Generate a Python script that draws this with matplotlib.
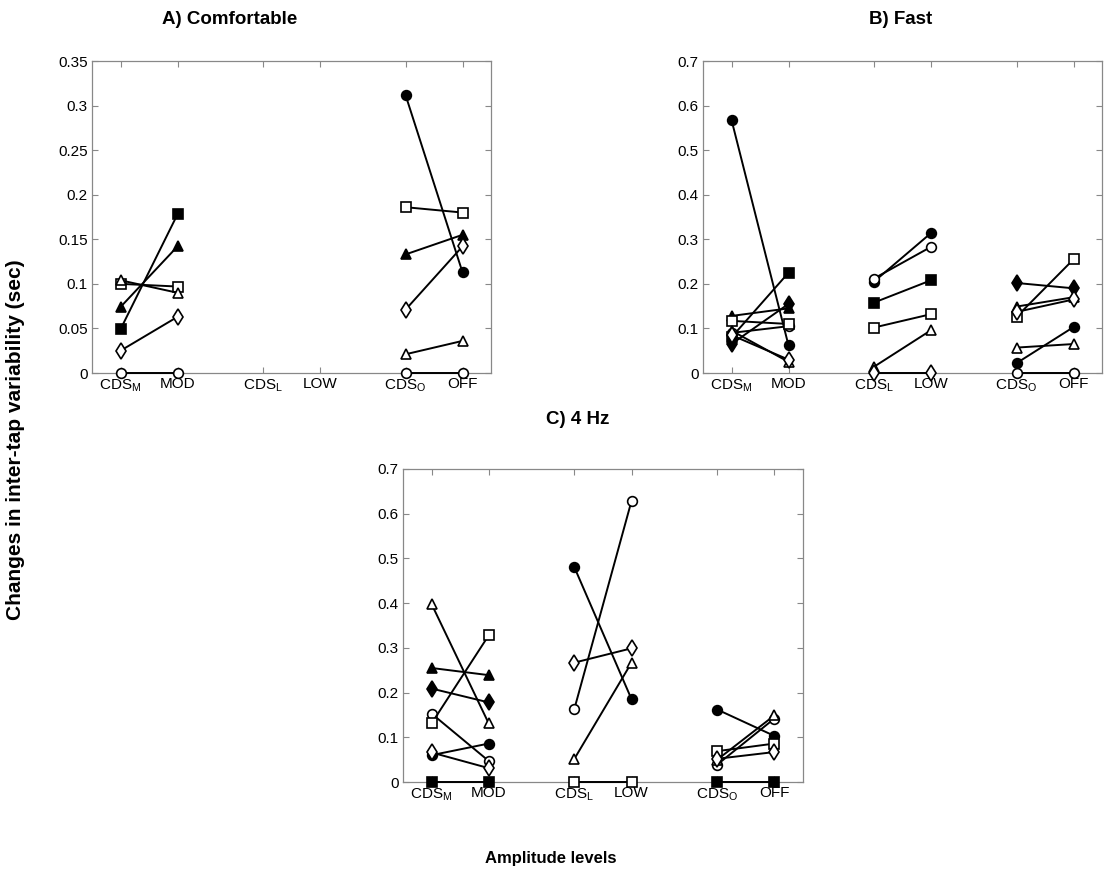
import numpy as np
import matplotlib
matplotlib.use("Agg")
import matplotlib.pyplot as plt

plt.rcParams["font.family"] = ["Liberation Sans", "DejaVu Sans"]

nan = np.nan

# x positions of the six conditions, tick labels
X_POS = [1, 2, 3.5, 4.5, 6, 7]
X_LABELS = [r"CDS$_\mathregular{M}$", "MOD", r"CDS$_\mathregular{L}$", "LOW",
            r"CDS$_\mathregular{O}$", "OFF"]

# one marker per subject: filled circle, open circle, filled square, open square,
# filled triangle, open triangle, filled diamond, open diamond
MARKERS = ["o", "o", "s", "s", "^", "^", "d", "d"]
FILLED = [True, False, True, False, True, False, True, False]

# panel A (comfortable): (first, second) per subject for each pair of conditions
A_MED = [(nan, nan), (0, 0), (0.049, 0.178), (0.100, 0.097),
         (0.074, 0.142), (0.104, 0.090), (nan, nan), (0.025, 0.063)]
A_LOW = [(nan, nan)] * 8
A_OFF = [(0.312, 0.113), (0, 0), (nan, nan), (0.186, 0.180),
         (0.133, 0.155), (0.021, 0.036), (nan, nan), (0.071, 0.142)]

# panel B (fast)
B_MED = [(0.568, 0.062), (0.090, 0.105), (0.080, 0.225), (0.117, 0.110),
         (0.128, 0.145), (0.095, 0.025), (0.065, 0.155), (0.085, 0.030)]
B_LOW = [(0.205, 0.314), (0.212, 0.283), (0.158, 0.208), (0.102, 0.132),
         (nan, nan), (0.014, 0.096), (nan, nan), (0, 0)]
B_OFF = [(0.022, 0.103), (0, 0), (nan, nan), (0.126, 0.255),
         (0.149, 0.170), (0.057, 0.065), (0.202, 0.190), (0.137, 0.165)]

# panel C (4 Hz)
C_MED = [(0.060, 0.086), (0.153, 0.047), (0, 0), (0.131, 0.328),
         (0.255, 0.239), (0.398, 0.131), (0.209, 0.178), (0.066, 0.031)]
C_LOW = [(0.480, 0.185), (0.164, 0.629), (nan, nan), (0, 0),
         (nan, nan), (0.052, 0.267), (nan, nan), (0.267, 0.299)]
C_OFF = [(0.162, 0.103), (0.039, 0.142), (0, 0), (0.069, 0.086),
         (nan, nan), (0.050, 0.149), (nan, nan), (0.052, 0.067)]

A_TICKS = [0, 0.05, 0.1, 0.15, 0.2, 0.25, 0.3, 0.35]
A_TICKLABELS = ["0", "0.05", "0.1", "0.15", "0.2", "0.25", "0.3", "0.35"]
BC_TICKS = [0, 0.1, 0.2, 0.3, 0.4, 0.5, 0.6, 0.7]
BC_TICKLABELS = ["0", "0.1", "0.2", "0.3", "0.4", "0.5", "0.6", "0.7"]

W, H = 1105, 877
fig = plt.figure(figsize=(W / 100, H / 100), dpi=100)


def draw_panel(rect, groups, ymax, yticks, yticklabels):
    ax = fig.add_axes(rect)
    for g, pairs in enumerate(groups):
        xs = X_POS[2 * g:2 * g + 2]
        for s, (v1, v2) in enumerate(pairs):
            if np.isnan(v1):
                continue
            ax.plot(xs, [v1, v2], color="black", lw=1.4,
                    marker=MARKERS[s], ms=7 if MARKERS[s] != "d" else 8,
                    mfc="black" if FILLED[s] else "white", mec="black",
                    mew=1.2, clip_on=False, zorder=3 + (0 if FILLED[s] else 1))
    ax.set_xlim(0.5, 7.5)
    ax.set_ylim(0, ymax)
    ax.set_xticks(X_POS)
    ax.set_xticklabels(X_LABELS)
    ax.set_yticks(yticks)
    ax.set_yticklabels(yticklabels)
    ax.tick_params(direction="in", length=4, width=0.8, color="#888888",
                   labelsize=11, top=True, right=True, pad=3)
    for sp in ax.spines.values():
        sp.set_color("#888888")
        sp.set_linewidth(0.9)
    return ax


draw_panel([92 / W, 1 - 373 / H, 399 / W, 312 / H],
           [A_MED, A_LOW, A_OFF], 0.35, A_TICKS, A_TICKLABELS)
draw_panel([703 / W, 1 - 373 / H, 399 / W, 312 / H],
           [B_MED, B_LOW, B_OFF], 0.7, BC_TICKS, BC_TICKLABELS)
draw_panel([403 / W, 1 - 782 / H, 400 / W, 313 / H],
           [C_MED, C_LOW, C_OFF], 0.7, BC_TICKS, BC_TICKLABELS)

fig.text(230 / W, 1 - 20 / H, "A) Comfortable", ha="center", va="center",
         fontsize=13.5, fontweight="bold")
fig.text(901 / W, 1 - 20 / H, "B) Fast", ha="center", va="center",
         fontsize=13.5, fontweight="bold")
fig.text(578 / W, 1 - 420 / H, "C) 4 Hz", ha="center", va="center",
         fontsize=13.5, fontweight="bold")
fig.text(16 / W, 1 - 440 / H, "Changes in inter-tap variability (sec)",
         rotation=90, ha="center", va="center", fontsize=15, fontweight="bold")
fig.text(551 / W, 1 - 858 / H, "Amplitude levels", ha="center", va="center",
         fontsize=12, fontweight="bold")

fig.savefig("out.png", dpi=100)
